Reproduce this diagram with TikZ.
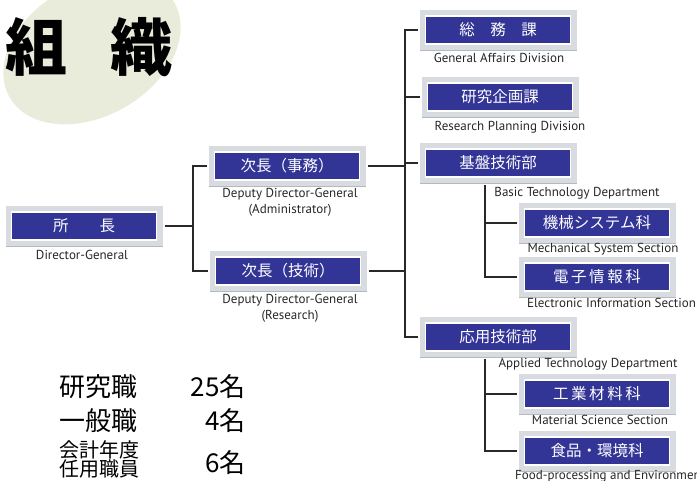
\documentclass[tikz,border=0pt]{standalone}
\usepackage{fontspec}
\setmainfont{PT Sans}
\newfontfamily\cjk{Noto Sans CJK JP}
\usetikzlibrary{positioning}
\definecolor{unitblue}{RGB}{50,52,150}
\definecolor{framegray}{RGB}{216,219,224}
\definecolor{frameshade}{RGB}{180,184,192}
\definecolor{blobgreen}{RGB}{233,236,218}
\definecolor{linkgray}{RGB}{40,40,40}
\begin{document}
\begin{tikzpicture}[x=1pt,y=-1pt,
    unit/.style={fill=unitblue, draw=white, line width=1.2pt, text=white,
      minimum width=145pt, minimum height=28pt, inner sep=0pt, outer sep=8pt,
      font=\cjk\fontsize{15.5}{16}\selectfont,
      preaction={draw=frameshade, line width=12pt, transform canvas={shift={(0.8pt,-0.8pt)}}},
      preaction={draw=framegray, line width=12pt}},
    lbl/.style={font=\fontsize{13}{16}\selectfont, text=black!85, inner sep=0pt, align=center},
    staff/.style={font=\cjk\fontsize{26}{28}\selectfont, inner sep=0pt},
    link/.style={draw=linkgray, line width=1.3pt}]
    \useasboundingbox (0,0) rectangle (697,480);

    % Title on its blob
    \fill[blobgreen, rotate around={30:(92,50)}] (92,50) ellipse (95 and 66);
    \node[font=\cjk\bfseries\fontsize{62}{62}\selectfont, anchor=west, inner sep=0pt] (title) at (5,47) {組\hspace{43pt}織};

    % Units
    \node[unit] (shocho) at (84,226) {所\hspace{31pt}長};
    \node[unit] (jimu) at (287,166) {次長（事務）};
    \node[unit] (gijutsu) at (288,271) {次長（技術）};
    \node[unit] (soumu) at (498,30) {総　務　課};
    \node[unit] (kikaku) at (500,97) {研究企画課};
    \node[unit] (kiban) at (498,163) {基盤技術部};
    \node[unit] (kikai) at (597,223) {機械システム科};
    \node[unit] (denshi) at (597,277) {電\,子\,情\,報\,科};
    \node[unit] (ouyou) at (498,337) {応用技術部};
    \node[unit] (kougyou) at (597,394) {工\,業\,材\,料\,科};
    \node[unit] (shokuhin) at (597,451) {食品・環境科};

    % English names
    \node[lbl] (shocholbl) at (82,255) {Director-General};
    \node[lbl] (jimulbl) at (290,202) {Deputy Director-General\\(Administrator)};
    \node[lbl] (gijutsulbl) at (290,308) {Deputy Director-General\\(Research)};
    \node[lbl] (soumulbl) at (499,58) {General Affairs Division};
    \node[lbl] (kikakulbl) at (510,127) {Research Planning Division};
    \node[lbl] (kibanlbl) at (577,193) {Basic Technology Department};
    \node[lbl] (kikailbl) at (603,249) {Mechanical System Section};
    \node[lbl, anchor=west] (denshilbl) at (527,303) {Electronic Information Section};
    \node[lbl] (ouyoulbl) at (588,364) {Applied Technology Department};
    \node[lbl] (kougyoulbl) at (600,420) {Material Science Section};
    \node[lbl, anchor=west] (shokuhinlbl) at (515,476) {Food-processing and Environment};

    % Lines
    \coordinate (spineA) at (193,0);
    \coordinate (spineB) at (405,0);
    \draw[link] (jimu.west) -- (jimu.west -| spineA) -- (gijutsu.west -| spineA) -- (gijutsu.west);
    \draw[link] (shocho.east) -- (shocho.east -| spineA);
    \draw[link] (soumu.west) -- (soumu.west -| spineB) -- (ouyou.west -| spineB) -- (ouyou.west);
    \foreach \n in {kikaku,kiban} \draw[link] (\n.west) -- (\n.west -| spineB);
    \foreach \n in {jimu,gijutsu} \draw[link] (\n.east) -- (\n.east -| spineB);
    \draw[link] ([xshift=-13]kiban.south) |- (kikai.west);
    \draw[link] ([xshift=-13]kiban.south) |- (denshi.west);
    \draw[link] ([xshift=-13]ouyou.south) |- (kougyou.west);
    \draw[link] ([xshift=-13]ouyou.south) |- (shokuhin.west);

    % Staff numbers
    \node[staff, anchor=west] (kenkyu) at (59,387) {研究職};
    \node[staff, anchor=east] (kenkyunum) at (246,387) {25名};
    \node[staff, anchor=west] (ippan) at (59,421) {一般職};
    \node[staff, anchor=east] (ippannum) at (246,421) {4名};
    \node[staff, anchor=west, align=left, font=\cjk\fontsize{20}{19}\selectfont] (kaikei) at (59,459) {会計年度\\任用職員};
    \node[staff, anchor=east] (kaikeinum) at (246,463) {6名};
\end{tikzpicture}
\end{document}
